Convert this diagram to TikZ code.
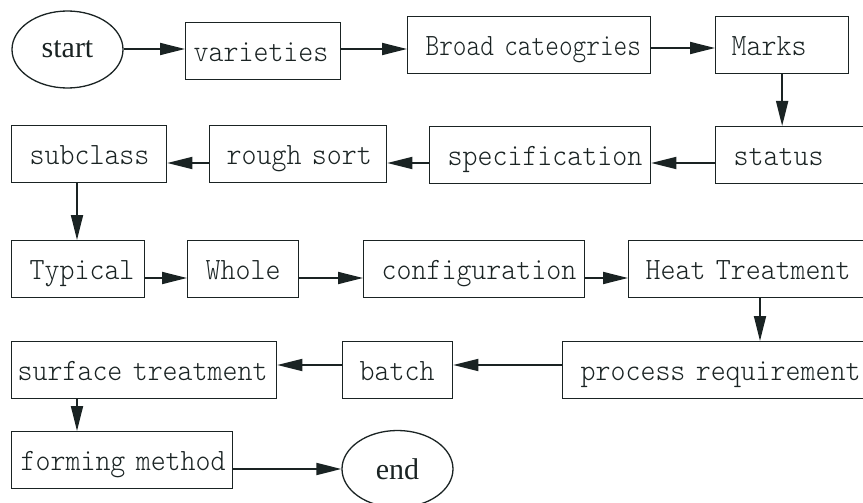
\documentclass[tikz,border=0pt]{standalone}
\usepackage{fontspec}
\usepackage{xcolor}
\usepackage{tikz}
\usetikzlibrary{shapes.geometric,arrows.meta}

\setmainfont{Liberation Serif}
\newfontfamily\boxfont[FakeStretch=0.92]{lmmonolt10-regular.otf}
\newfontfamily\narrowfont[FakeStretch=0.84]{lmmonolt10-regular.otf}
\definecolor{ink}{HTML}{1A2323}

\tikzset{
  box/.style={draw=ink, line width=1.3pt, text=ink, anchor=north west, inner sep=0pt,
    text width=#1, minimum height=57pt, align=left, text height=22pt, text depth=2pt,
    font=\boxfont\fontsize{31}{36}\selectfont},
  oval/.style={ellipse, draw=ink, line width=1.3pt, text=ink, inner sep=0pt,
    minimum width=111pt, minimum height=77pt, font=\fontsize{30}{34}\selectfont},
  arr/.style={draw=ink, line width=1.8pt, -{Triangle[length=25pt,width=12pt]}}
}

\begin{document}
\begin{tikzpicture}[x=1pt,y=-1pt]
\useasboundingbox (0,0) rectangle (863,503);
\clip (0,0) rectangle (863,503);

% rows and columns of the connectors
\coordinate (r1) at (0,49);
\coordinate (r2) at (0,163);
\coordinate (r3) at (0,278);
\coordinate (r4) at (0,365);
\coordinate (r5) at (0,469);
\coordinate (c1) at (77,0);
\coordinate (c2) at (760,0);

\node[oval] (start) at (67.5,49.5) {start};
\node[box=155pt] (var) at (185,22) {\hspace*{8pt}varieties};
\node[box=243pt,font=\narrowfont\fontsize{31}{36}\selectfont] (broad) at (407,16) {\hspace*{18pt}Broad cateogries};
\node[box=133pt] (marks) at (715,16) {\hspace*{16pt}Marks};

\node[box=200pt] (status) at (715,126) {\hspace*{18pt}status};
\node[box=221pt] (spec) at (429,126) {\hspace*{18pt}specification};
\node[box=177pt] (rough) at (209,125) {\hspace*{17pt}rough sort};
\node[box=155pt] (subclass) at (11,125) {\hspace*{18pt}subclass};

\node[box=133pt] (typical) at (11,240) {\hspace*{18pt}Typical};
\node[box=111pt] (whole) at (187,240) {\hspace*{18pt}Whole};
\node[box=221pt] (config) at (363,240) {\hspace*{18pt}configuration};
\node[box=280pt] (heat) at (628,240) {\hspace*{17pt}Heat Treatment};

\node[box=330pt] (process) at (562,341) {\hspace*{18pt}process requirement};
\node[box=110pt] (batch) at (342,341) {\hspace*{17pt}batch};
\node[box=265pt] (surface) at (11,341) {\hspace*{6pt}surface treatment};

\node[box=221pt] (forming) at (11,431) {\hspace*{9pt}forming method};
\node[oval] (end) at (397.5,469) {end};

\draw[arr] (start.east |- r1) -- (var.west |- r1);
\draw[arr] (var.east |- r1) -- (broad.west |- r1);
\draw[arr] (broad.east |- 0,48) -- (marks.west |- 0,48);
\draw[arr] (marks.south) -- (status.north -| marks.south);
\draw[arr] (status.west |- r2) -- (spec.east |- r2);
\draw[arr] (spec.west |- r2) -- (rough.east |- r2);
\draw[arr] (rough.west |- r2) -- (subclass.east |- r2);
\draw[arr] (subclass.south -| c1) -- (typical.north -| c1);
\draw[arr] (typical.east |- r3) -- (whole.west |- r3);
\draw[arr] (whole.east |- r3) -- (config.west |- r3);
\draw[arr] (config.east |- r3) -- (heat.west |- r3);
\draw[arr] (heat.south -| c2) -- (process.north -| c2);
\draw[arr] (process.west |- r4) -- (batch.east |- r4);
\draw[arr] (batch.west |- r4) -- (surface.east |- r4);
\draw[arr] (surface.south -| c1) -- (forming.north -| c1);
\draw[arr] (forming.east |- r5) -- (end.west |- r5);

\end{tikzpicture}
\end{document}
